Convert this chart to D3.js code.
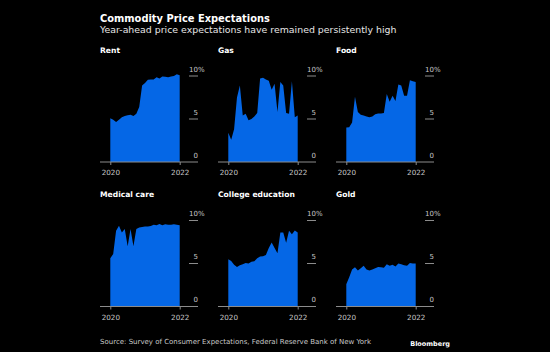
<!DOCTYPE html>
<html><head><meta charset="utf-8">
<script src="https://cdn.jsdelivr.net/npm/d3@7"></script>
<style>
html,body{margin:0;padding:0;background:#000;}
svg{display:block;}
text{font-family:"DejaVu Sans",Verdana,sans-serif;}
</style></head>
<body>
<script>
// ---- data (monthly, Jan 2020 .. Jan 2022), % expected price change ----
const panelTitles = ["Rent","Gas","Food","Medical care","College education","Gold"];
const rent = [5.1,4.9,4.65,4.9,5.2,5.35,5.45,5.5,5.35,5.6,6.4,8.9,9.2,9.55,9.6,9.6,9.85,9.7,9.95,9.9,9.85,9.95,10.0,10.2,10.1];
const gas = [3.4,2.6,3.8,7.5,8.9,5.4,5.6,4.85,5.0,5.3,5.7,9.7,9.8,9.6,9.45,8.4,9.1,5.8,9.3,8.9,5.7,5.6,9.4,5.2,5.4];
const food = [4.0,4.05,4.6,7.6,5.8,5.5,5.4,5.3,5.2,5.3,5.55,5.65,5.65,5.7,7.9,7.0,7.7,7.1,9.0,8.9,7.7,7.7,9.5,9.4,9.3];
const medical = [5.6,6.1,8.8,9.4,8.6,9.0,7.0,9.0,7.0,9.0,9.2,9.25,9.3,9.3,9.35,9.5,9.45,9.6,9.45,9.55,9.5,9.5,9.55,9.5,9.45];
const college = [5.5,5.3,4.85,4.6,4.8,4.9,5.05,5.0,5.2,5.25,5.6,5.8,5.85,6.0,6.8,7.45,6.8,6.2,8.6,8.6,7.4,8.8,8.4,8.85,8.6];
const gold = [2.6,3.4,4.3,4.55,4.2,4.45,4.75,4.3,4.2,4.3,4.45,4.6,4.55,4.5,4.9,4.75,4.85,4.65,5.0,4.9,4.8,4.75,5.05,5.0,5.0];
const seriesList = [rent,gas,food,medical,college,gold];
const xTickLabels = ["2020","2022"];
const yTicks = [0,5,10];

const W = 550, H = 352;
const svg = d3.select("body").append("svg").attr("width",W).attr("height",H);
svg.append("rect").attr("width",W).attr("height",H).attr("fill","#000");

svg.append("text").attr("x",100).attr("y",22).attr("fill","#fff")
  .attr("font-size",9.9).attr("font-weight","bold").text("Commodity Price Expectations");
svg.append("text").attr("x",100).attr("y",33).attr("fill","#e6e6e6")
  .attr("font-size",9.4).text("Year-ahead price expectations have remained persistently high");

const blue = "#0567e6";
const axisCol = "#8c8c8c";
const labCol = "#c8c8c8";

seriesList.forEach((vals, k) => {
  const col = k % 3, row = Math.floor(k / 3);
  const left = 100 + col * 118;
  const base = row === 0 ? 162 : 306.5;
  const g = svg.append("g");
  const x = d3.scaleLinear().domain([0, 24]).range([left + 10.3, left + 79.7]);
  const y = d3.scaleLinear().domain([0, 10]).range([base, base - 86]);

  g.append("text").attr("x", left).attr("y", base - 109.5).attr("fill","#fff")
    .attr("font-size",7.6).attr("font-weight","bold").text(panelTitles[k]);

  const area = d3.area().x((d,i)=>x(i)).y0(y(0)).y1(d=>y(d));
  g.append("path").datum(vals).attr("d", area).attr("fill", blue);

  // y ticks on the right
  yTicks.forEach(t => {
    if (t > 0) g.append("line").attr("x1", left + 89).attr("x2", left + 98)
      .attr("y1", y(t)).attr("y2", y(t)).attr("stroke", axisCol).attr("stroke-width",1);
    g.append("text").attr("x", left + 98).attr("y", y(t) - 4.5)
      .attr("fill", labCol).attr("font-size", 7).attr("text-anchor","end").text(t);
    if (t === 10) g.append("text").attr("x", left + 98).attr("y", y(t) - 4.5)
      .attr("fill", labCol).attr("font-size", 7).text("%");
  });

  // baseline axis
  g.append("line").attr("x1", left).attr("x2", left + 98)
    .attr("y1", base).attr("y2", base).attr("stroke", axisCol).attr("stroke-width",1);
  const xa = d3.axisBottom(x).tickValues([0,24]).tickSize(3).tickPadding(5)
    .tickFormat((d,i)=>xTickLabels[i]);
  const ag = g.append("g").attr("transform",`translate(0,${base})`).call(xa);
  ag.select(".domain").remove();
  ag.selectAll("line").attr("stroke", axisCol);
  ag.selectAll("text").attr("fill", labCol).attr("font-size", 7.2)
    .attr("font-family", '"DejaVu Sans",Verdana,sans-serif');
});

svg.append("text").attr("x",100).attr("y",344).attr("fill","#c8c8c8")
  .attr("font-size",7).text("Source: Survey of Consumer Expectations, Federal Reserve Bank of New York");
svg.append("text").attr("x",450).attr("y",346).attr("fill","#fff").attr("text-anchor","end")
  .attr("font-size",6.5).attr("font-weight","bold").text("Bloomberg");
</script>
</body></html>
